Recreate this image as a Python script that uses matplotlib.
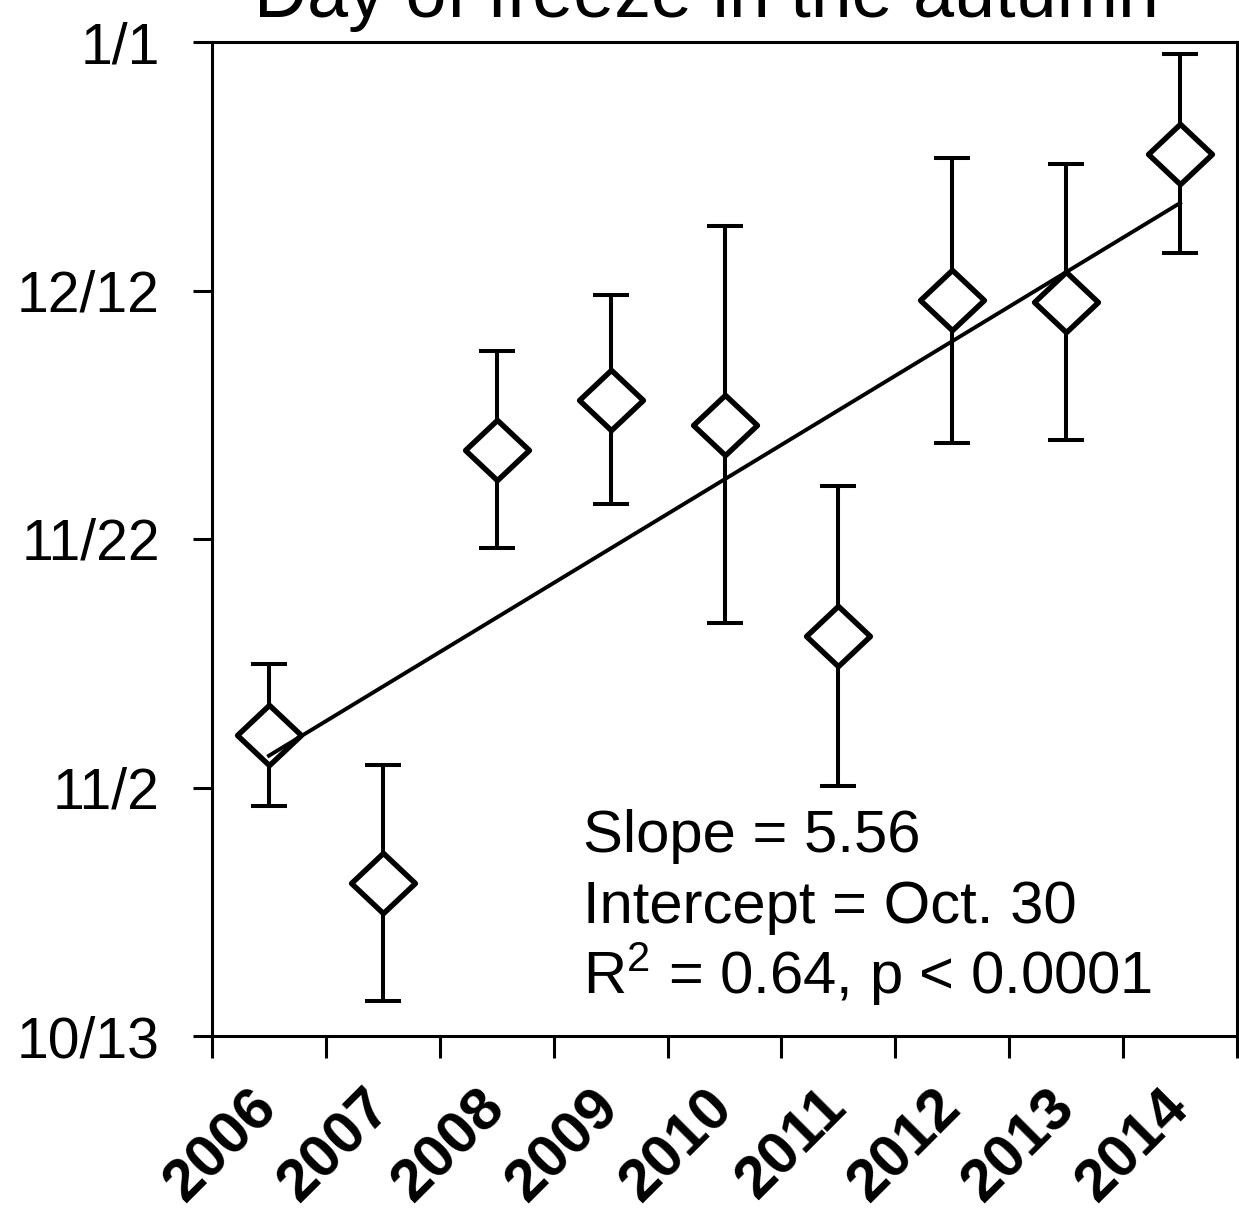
import datetime as dt
import numpy as np
import matplotlib
matplotlib.use("Agg")
import matplotlib.pyplot as plt
from matplotlib.markers import MarkerStyle
from matplotlib.path import Path

plt.rcParams['font.family'] = 'Liberation Sans'
plt.rcParams['mathtext.fontset'] = 'custom'
plt.rcParams['mathtext.rm'] = 'Liberation Sans'
plt.rcParams['mathtext.it'] = 'Liberation Sans:italic'

# Autumn freeze date per year, as day of year (non-leap), with error
years = [2006, 2007, 2008, 2009, 2010, 2011, 2012, 2013, 2014]
freeze_doy = [310.2, 298.3, 333.2, 337.2, 335.2, 318.2, 345.2, 345.1, 357.0]
freeze_err = [5.7, 9.5, 7.9, 8.4, 16.0, 12.1, 11.5, 11.1, 8.0]

# Linear fit: days per year, intercept (Oct. 30) at year 2005
slope = 5.56
intercept_doy = 303
fit_base_year = 2005

yticks_doy = [286, 306, 326, 346, 366]
stats_lines = ["Slope = 5.56",
               "Intercept = Oct. 30",
               r"R$^2$ = 0.64, p < 0.0001"]


def doy_label(doy):
    """Turn a day of year into a m/d string"""
    day = dt.date(2006, 1, 1) + dt.timedelta(days=doy - 1)
    return "{}/{}".format(day.month, day.day)


W, H = 1239, 1211
fig = plt.figure(figsize=(W / 100, H / 100), dpi=100)
ax = fig.add_axes([212 / W, 175 / H, 1025 / W, 994 / H])

x = np.arange(len(years))
ax.errorbar(x, freeze_doy, yerr=freeze_err, fmt='none', ecolor='black',
            elinewidth=2.9, capsize=13, capthick=2.9, zorder=2,
            clip_on=False)

diamond = Path([(0, 1), (1.06, 0), (0, -1), (-1.06, 0), (0, 1)],
               [Path.MOVETO, Path.LINETO, Path.LINETO, Path.LINETO,
                Path.CLOSEPOLY])
ax.plot(x, freeze_doy, linestyle='none',
        marker=MarkerStyle(diamond, joinstyle='miter'),
        markersize=46, markerfacecolor='white', markeredgecolor='black',
        markeredgewidth=3.9, zorder=3, clip_on=False)

fit_years = np.array(years) - fit_base_year
ax.plot(x, intercept_doy + slope * fit_years, color='black', lw=2.8,
        zorder=4)

ax.set_xlim(-0.5, len(years) - 0.5)
ax.set_ylim(yticks_doy[0], yticks_doy[-1])

# year labels sit under the points, tick marks sit between them
ax.set_xticks(x)
ax.set_xticklabels([str(y) for y in years], rotation=45, ha='right',
                   va='center', rotation_mode='anchor', fontsize=43,
                   fontweight='bold')
ax.set_xticks(np.arange(-0.5, len(years)), minor=True)
ax.tick_params(axis='x', which='major', length=0, pad=45)
ax.tick_params(axis='x', which='minor', direction='out', length=16,
               width=2.2)

ax.set_yticks(yticks_doy)
ax.set_yticklabels([doy_label(d) for d in yticks_doy], fontsize=41)
ax.tick_params(axis='y', direction='out', length=13.5, width=2.2, pad=24)

for side in ax.spines.values():
    side.set_linewidth(2.2)

for i, line in enumerate(stats_lines):
    ax.text(583 / W, 1 - (852 + 71 * i) / H, line, fontsize=43,
            ha='left', va='baseline', transform=fig.transFigure)

fig.text(706 / W, 1 - 17 / H, "Day of freeze in the autumn", fontsize=53,
         ha='center', va='baseline')

fig.savefig("out.png", dpi=100)
